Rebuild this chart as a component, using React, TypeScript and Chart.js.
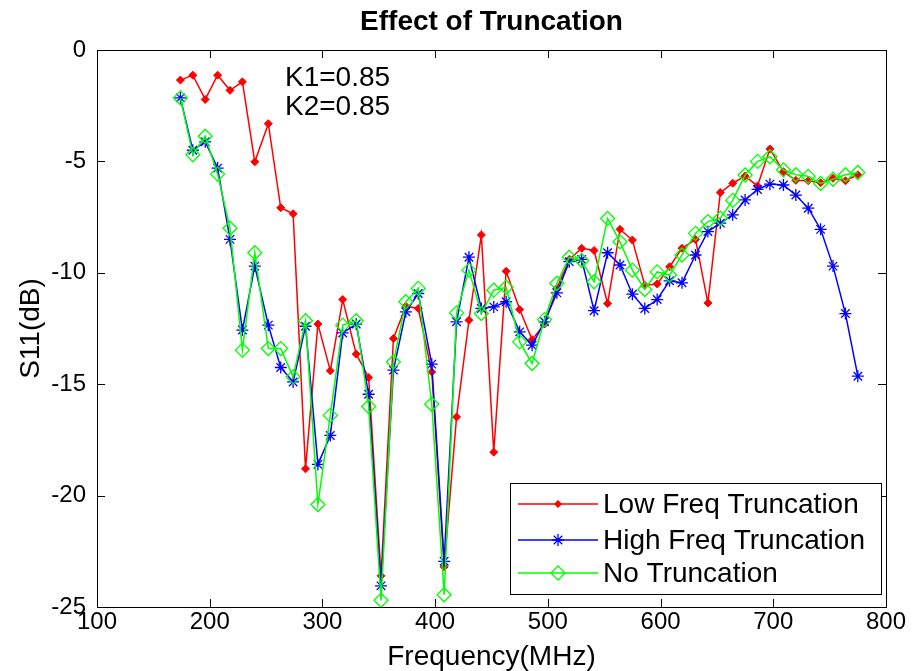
import React, { useEffect, useRef } from 'react';
import { Chart, registerables } from 'chart.js';

Chart.register(...registerables);

// ---------- data ----------
const freqMHz = [
  174, 185, 196, 207, 218, 229, 240, 252, 263, 274,
  285, 296, 307, 318, 330, 341, 352, 363, 374, 385,
  397, 408, 419, 430, 441, 452, 463, 475, 486, 497,
  508, 519, 530, 541, 553, 564, 575, 586, 597, 608,
  619, 631, 642, 653, 664, 675, 686, 697, 709, 720,
  731, 742, 753, 764, 775,
];

const lowFreqTrunc = [
  -1.35, -1.13, -2.22, -1.13, -1.81, -1.43, -5.02, -3.31, -7.08, -7.35,
  -18.8, -12.3, -14.4, -11.2, -13.65, -14.7, -23.6, -12.95, -11.5, -11.6,
  -14.45, -23.2, -16.47, -12.13, -8.3, -18.05, -9.93, -11.65, -13.0, -12.3,
  -10.7, -9.4, -8.9, -9.0, -11.38, -8.05, -8.53, -10.56, -10.5, -9.73,
  -8.9, -8.5, -11.35, -6.4, -5.98, -5.66, -6.1, -4.44, -5.46, -5.85,
  -5.87, -5.96, -5.76, -5.87, -5.6,
];

const highFreqTrunc = [
  -2.15, -4.5, -4.12, -5.3, -8.5, -12.57, -9.7, -12.35, -14.25, -14.9,
  -12.4, -18.6, -17.3, -12.7, -12.3, -15.45, -24.05, -14.37, -11.75, -10.93,
  -14.1, -22.95, -12.2, -9.3, -11.6, -11.53, -11.3, -12.65, -13.25, -12.2,
  -10.9, -9.5, -9.4, -11.7, -9.1, -9.65, -10.96, -11.6, -11.2, -10.36,
  -10.45, -9.2, -8.15, -7.77, -7.4, -6.73, -6.26, -6.02, -6.06, -6.51,
  -7.1, -8.05, -9.7, -11.83, -14.64,
];

const noTrunc = [
  -2.15, -4.7, -3.87, -5.57, -8.0, -13.47, -9.1, -13.4, -13.4, -14.67,
  -12.15, -20.4, -16.4, -12.35, -12.15, -16.0, -24.7, -14.0, -11.3, -10.7,
  -15.9, -24.45, -11.8, -9.88, -11.83, -10.78, -10.65, -13.1, -14.07, -12.1,
  -10.47, -9.3, -9.45, -10.4, -7.56, -8.61, -9.88, -10.75, -9.96, -10.1,
  -9.2, -8.23, -7.7, -7.55, -6.75, -5.61, -5.0, -4.79, -5.38, -5.6,
  -5.67, -5.99, -5.8, -5.6, -5.5,
];

const xTicks = [100, 200, 300, 400, 500, 600, 700, 800];
const yTicks = [0, -5, -10, -15, -20, -25];

const chartTitle = 'Effect of Truncation';
const xTitle = 'Frequency(MHz)';
const yTitle = 'S11(dB)';
const annotationLines = ['K1=0.85', 'K2=0.85'];
const seriesNames = ['Low Freq Truncation', 'High Freq Truncation', 'No Truncation'];
const seriesColors = ['#ff0000', '#0000ff', '#00ff00'];

const FONT = '"Liberation Sans", Arial, Helvetica, sans-serif';

// ---------- marker drawing for legend ----------
function drawMarker(ctx: CanvasRenderingContext2D, kind: number, x: number, y: number, color: string) {
  ctx.save();
  ctx.strokeStyle = color;
  ctx.fillStyle = color;
  ctx.lineWidth = 1.3;
  ctx.beginPath();
  if (kind === 0) {
    const r = 4;
    ctx.moveTo(x - r, y); ctx.lineTo(x, y - r); ctx.lineTo(x + r, y); ctx.lineTo(x, y + r); ctx.closePath();
    ctx.fill();
  } else if (kind === 1) {
    const r = 6;
    const d = r * Math.SQRT1_2;
    ctx.moveTo(x - r, y); ctx.lineTo(x + r, y);
    ctx.moveTo(x, y - r); ctx.lineTo(x, y + r);
    ctx.moveTo(x - d, y - d); ctx.lineTo(x + d, y + d);
    ctx.moveTo(x - d, y + d); ctx.lineTo(x + d, y - d);
    ctx.stroke();
  } else {
    const r = 7;
    ctx.moveTo(x - r, y); ctx.lineTo(x, y - r); ctx.lineTo(x + r, y); ctx.lineTo(x, y + r); ctx.closePath();
    ctx.stroke();
  }
  ctx.restore();
}

const decorPlugin = {
  id: 'matlabDecor',
  afterDraw(chart: any) {
    const { ctx, chartArea: a, scales } = chart;
    const xs = scales.x;
    const ys = scales.y;
    ctx.save();

    // axes box
    ctx.strokeStyle = '#000';
    ctx.lineWidth = 1;
    ctx.strokeRect(Math.round(a.left) + 0.5, Math.round(a.top) + 0.5, Math.round(a.right - a.left), Math.round(a.bottom - a.top));

    // inner ticks
    const tl = 8;
    ctx.beginPath();
    for (const v of xTicks) {
      const px = Math.round(xs.getPixelForValue(v)) + 0.5;
      ctx.moveTo(px, a.bottom); ctx.lineTo(px, a.bottom - tl);
      ctx.moveTo(px, a.top); ctx.lineTo(px, a.top + tl);
    }
    for (const v of yTicks) {
      const py = Math.round(ys.getPixelForValue(v)) + 0.5;
      ctx.moveTo(a.left, py); ctx.lineTo(a.left + tl, py);
      ctx.moveTo(a.right, py); ctx.lineTo(a.right - tl, py);
    }
    ctx.stroke();

    // titles
    ctx.fillStyle = '#000';
    ctx.textAlign = 'center';
    ctx.textBaseline = 'middle';
    ctx.font = `bold 28px ${FONT}`;
    ctx.fillText(chartTitle, (a.left + a.right) / 2, 22);
    ctx.font = `28px ${FONT}`;
    ctx.fillText(xTitle, (a.left + a.right) / 2, 657);
    ctx.save();
    ctx.translate(31, (a.top + a.bottom) / 2);
    ctx.rotate(-Math.PI / 2);
    ctx.fillText(yTitle, 0, 0);
    ctx.restore();

    // annotation text
    ctx.textAlign = 'left';
    ctx.fillText(annotationLines[0], 285, 78);
    ctx.fillText(annotationLines[1], 285, 107);

    // legend
    const lx = 510, ly = 483, lw = 371, lh = 111;
    ctx.fillStyle = '#fff';
    ctx.fillRect(lx, ly, lw, lh);
    ctx.strokeStyle = '#000';
    ctx.lineWidth = 1;
    ctx.strokeRect(lx + 0.5, ly + 0.5, lw, lh);
    const rows = [504, 540, 573];
    seriesNames.forEach((name, i) => {
      const yy = rows[i];
      ctx.strokeStyle = seriesColors[i];
      ctx.lineWidth = 1.5;
      ctx.beginPath();
      ctx.moveTo(518, yy); ctx.lineTo(598, yy);
      ctx.stroke();
      drawMarker(ctx, i, 558, yy, seriesColors[i]);
      ctx.fillStyle = '#000';
      ctx.font = `28px ${FONT}`;
      ctx.textAlign = 'left';
      ctx.textBaseline = 'middle';
      ctx.fillText(name, 603, yy + 1);
    });

    ctx.restore();
  },
};

export default function App() {
  const canvasRef = useRef<HTMLCanvasElement | null>(null);

  useEffect(() => {
    document.body.style.margin = '0';
    document.body.style.background = '#fff';
    const canvas = canvasRef.current;
    if (!canvas) return;

    const mk = (vals: number[]) => freqMHz.map((f, i) => ({ x: f, y: vals[i] }));

    const chart = new Chart(canvas, {
      type: 'line',
      data: {
        datasets: [
          {
            label: seriesNames[0],
            data: mk(lowFreqTrunc),
            borderColor: seriesColors[0],
            backgroundColor: seriesColors[0],
            pointBackgroundColor: seriesColors[0],
            pointBorderColor: seriesColors[0],
            borderWidth: 1.5,
            pointStyle: 'rectRot',
            pointRadius: 4,
            pointBorderWidth: 1,
            tension: 0,
            order: 2,
            clip: 12,
          },
          {
            label: seriesNames[1],
            data: mk(highFreqTrunc),
            borderColor: seriesColors[1],
            backgroundColor: seriesColors[1],
            pointBorderColor: seriesColors[1],
            borderWidth: 1.5,
            pointStyle: 'star',
            pointRadius: 6,
            pointBorderWidth: 1.3,
            tension: 0,
            order: 1,
            clip: 12,
          },
          {
            label: seriesNames[2],
            data: mk(noTrunc),
            borderColor: seriesColors[2],
            backgroundColor: 'rgba(0,0,0,0)',
            pointBackgroundColor: 'rgba(0,0,0,0)',
            pointBorderColor: seriesColors[2],
            borderWidth: 1.5,
            pointStyle: 'rectRot',
            pointRadius: 7,
            pointBorderWidth: 1.3,
            tension: 0,
            order: 0,
            clip: 12,
          },
        ],
      } as any,
      options: {
        responsive: false,
        animation: false,
        devicePixelRatio: 1,
        events: [],
        layout: { padding: { top: 50, right: 30, left: 0, bottom: 0 } },
        plugins: {
          legend: { display: false },
          title: { display: false },
          tooltip: { enabled: false },
        },
        scales: {
          x: {
            type: 'linear',
            min: 100,
            max: 800,
            afterBuildTicks: (s: any) => { s.ticks = xTicks.map((v) => ({ value: v })); },
            ticks: {
              font: { family: FONT, size: 24 },
              color: '#000',
              padding: 1,
              maxRotation: 0,
              autoSkip: false,
            },
            grid: { display: false, drawTicks: false },
            border: { display: false },
            afterFit: (s: any) => { s.height = 64; },
          },
          y: {
            type: 'linear',
            min: -25,
            max: 0,
            afterBuildTicks: (s: any) => { s.ticks = yTicks.map((v) => ({ value: v })); },
            ticks: {
              font: { family: FONT, size: 24 },
              color: '#000',
              padding: 11,
              autoSkip: false,
            },
            grid: { display: false, drawTicks: false },
            border: { display: false },
            afterFit: (s: any) => { s.width = 97; },
          },
        },
      } as any,
      plugins: [decorPlugin],
    });

    return () => chart.destroy();
  }, []);

  return (
    <div style={{ width: 916, height: 671, background: '#fff' }}>
      <canvas ref={canvasRef} width={916} height={671} style={{ display: 'block' }} />
    </div>
  );
}
